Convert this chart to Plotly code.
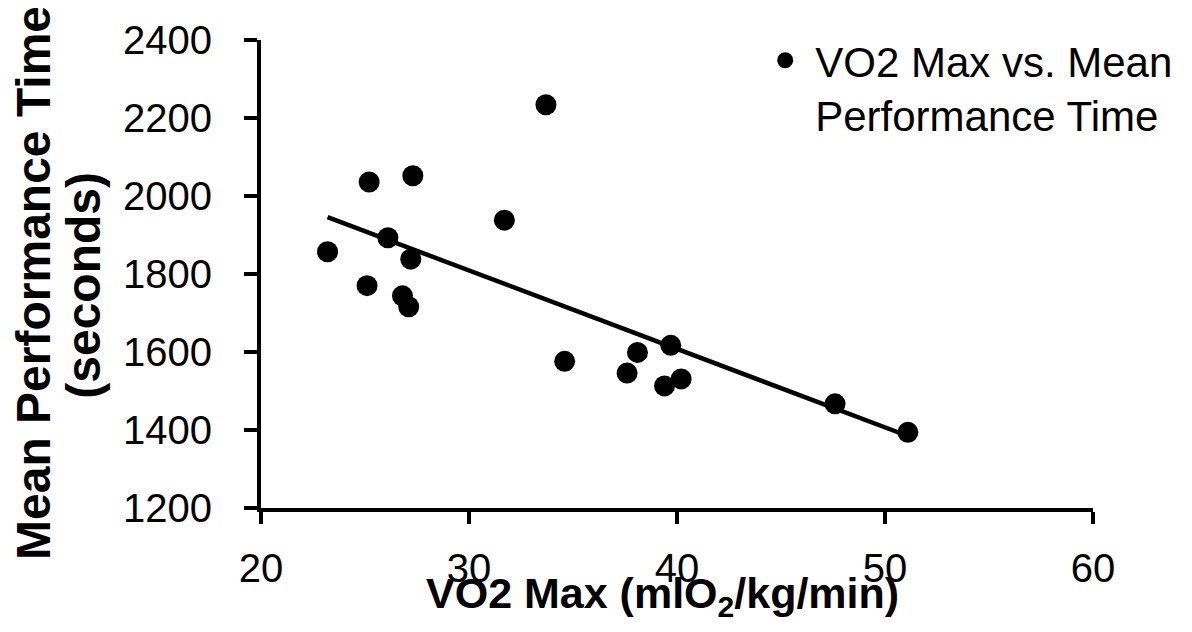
import numpy as np
import plotly.graph_objects as go

# Data
vo2_max = [33.7, 25.2, 27.3, 31.7, 26.1, 23.2, 27.2, 25.1, 26.8, 27.1,
           34.6, 38.1, 37.6, 39.7, 39.4, 40.2, 47.6, 51.1]
mean_perf_time = [2234, 2036, 2052, 1938, 1893, 1857, 1838, 1770, 1744, 1716,
                  1576, 1599, 1546, 1617, 1513, 1531, 1467, 1394]
x_ticks = [20, 30, 40, 50, 60]
y_ticks = [1200, 1400, 1600, 1800, 2000, 2200, 2400]

FONT = "Liberation Sans, Arial, sans-serif"

# Linear trendline computed from the data
slope, intercept = np.polyfit(vo2_max, mean_perf_time, 1)
tx = np.array([min(vo2_max), max(vo2_max)])
ty = slope * tx + intercept

fig = go.Figure()
fig.add_trace(go.Scatter(
    x=tx, y=ty, mode="lines", line=dict(color="black", width=4.5),
    showlegend=False, hoverinfo="skip"))
fig.add_trace(go.Scatter(
    x=vo2_max, y=mean_perf_time, mode="markers",
    marker=dict(color="black", size=21),
    name="VO2 Max vs. Mean<br>Performance Time"))

fig.update_layout(
    width=1192, height=632,
    margin=dict(l=253, r=107, t=32, b=131.5, autoexpand=False),
    paper_bgcolor="white", plot_bgcolor="white",
    font=dict(family=FONT, color="black", size=40),
    showlegend=True,
    legend=dict(x=0.594, y=1.029, xanchor="left", yanchor="top",
                font=dict(size=42, family=FONT), valign="top",
                itemwidth=50, bgcolor="rgba(0,0,0,0)"),
)
fig.update_xaxes(range=[20, 60], tickvals=x_ticks, showgrid=False, zeroline=False,
                 showline=True, linecolor="black", linewidth=4, automargin=False,
                 ticks="outside", ticklen=12, tickwidth=4, tickcolor="black",
                 ticklabelstandoff=10, tickfont=dict(size=40))
fig.update_yaxes(range=[1200, 2400], tickvals=y_ticks, showgrid=False, zeroline=False,
                 showline=True, linecolor="black", linewidth=4, automargin=False,
                 ticks="outside", ticklen=13, tickwidth=4, tickcolor="black",
                 ticklabelstandoff=24, tickfont=dict(size=40))

fig.add_annotation(text="<b>VO2 Max (mlO<sub>2</sub>/kg/min)</b>",
                   xref="paper", yref="paper", x=0.482, y=-0.125,
                   xanchor="center", yanchor="top", showarrow=False,
                   font=dict(size=43, family=FONT))
fig.add_annotation(text="<b>Mean Performance Time</b>",
                   xref="paper", yref="paper", x=-0.2728, y=0.481,
                   xanchor="center", yanchor="middle", textangle=-90,
                   showarrow=False, font=dict(size=48, family=FONT))
fig.add_annotation(text="<b>(seconds)</b>",
                   xref="paper", yref="paper", x=-0.2127, y=0.475,
                   xanchor="center", yanchor="middle", textangle=-90,
                   showarrow=False, font=dict(size=48, family=FONT))

fig.write_html("out.html")
